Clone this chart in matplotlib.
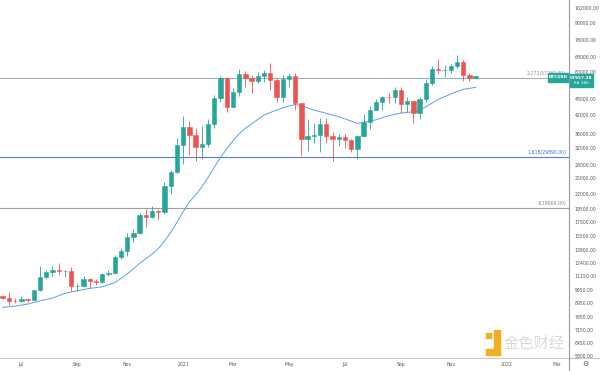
import numpy as np
import matplotlib
matplotlib.use("Agg")
import matplotlib.pyplot as plt
from matplotlib.patches import Rectangle
from matplotlib.lines import Line2D
from matplotlib.ticker import NullLocator

# недільні свічки BTCUSD, з 15.06.2020 по 29.11.2021
opens = [9470, 9300, 9130, 9070, 9240, 9170, 9930, 11050, 11580, 11770,
         11650, 11680, 10270, 10330, 10930, 10770, 10670, 11380, 11500, 13030,
         13780, 15480, 15970, 18450, 18180, 19160, 18970, 23500, 26270, 33000,
         38150, 35800, 32260, 33100, 39250, 48600, 57400, 45200, 51000, 59000,
         57400, 55800, 58000, 59800, 56200, 49100, 56600, 58200, 46400, 34700,
         35600, 35800, 39100, 35500, 34700, 35300, 34250, 31800, 35400, 39850,
         43800, 46900, 49000, 48900, 51800, 46000, 47200, 42800, 48200, 54900,
         61500, 61000, 61300, 63300, 65500, 58600, 57300]
highs = [9590, 9790, 9300, 9480, 9360, 10000, 12100, 11800, 12100, 12480,
         11800, 12080, 10600, 11180, 10990, 10950, 11500, 11720, 13350, 14100,
         15970, 16490, 18820, 19480, 19920, 19420, 24200, 26900, 34800, 41950,
         40100, 37850, 38500, 40950, 49700, 58350, 57500, 52640, 61800, 60600,
         58600, 60200, 61200, 64900, 57000, 58400, 59600, 59600, 46700, 40900,
         39500, 41300, 41300, 36600, 36000, 35950, 34700, 35400, 42600, 45300,
         48100, 49200, 50500, 52900, 52900, 48800, 47300, 49000, 56600, 62900,
         67000, 63700, 64300, 69000, 66300, 59400, 58100]
lows = [9220, 8830, 8950, 9050, 9060, 9140, 9880, 10950, 11150, 11300,
        11130, 9900, 9900, 10200, 10150, 10400, 10530, 11220, 11400, 12900,
        13210, 14850, 15800, 16800, 18100, 17800, 18700, 21900, 26100, 28100,
        30400, 28850, 29250, 32300, 37900, 47000, 43300, 44950, 49200, 53200,
        50400, 54900, 55500, 52000, 47000, 47100, 53000, 43800, 30000, 31300,
        33400, 31000, 33400, 28800, 32700, 32000, 31000, 29300, 35200, 37600,
        43800, 43900, 46400, 46600, 42800, 43400, 39600, 40800, 46900, 53800,
        59600, 57800, 59500, 62300, 55600, 55600, 56800]
closes = [9300, 9130, 9070, 9240, 9170, 9930, 11050, 11580, 11770, 11650,
          11680, 10270, 10330, 10930, 10770, 10670, 11380, 11500, 13030, 13780,
          15480, 15970, 18450, 18180, 19160, 18970, 23500, 26270, 33000, 38150,
          35800, 32260, 33100, 39250, 48600, 57400, 45200, 51000, 59000, 57400,
          55800, 58000, 59800, 56200, 49100, 56600, 58200, 46400, 34700, 35600,
          35800, 39100, 35500, 34700, 35300, 34250, 31800, 35400, 39850, 43800,
          46900, 49000, 48900, 51800, 46000, 47200, 42800, 48200, 54900, 61500,
          61000, 61300, 63300, 65500, 58600, 57300, 57957.28]

# ковзна середня
ma_idx = [0, 2, 4, 6, 8, 10, 12, 14, 16, 18, 20, 22, 24, 25, 26, 27, 28, 29,
          30, 31, 32, 33, 34, 35, 36, 37, 38, 39, 40, 42, 44, 46, 47, 48, 50,
          52, 54, 56, 57, 58, 60, 62, 64, 66, 67, 68, 70, 72, 74, 75, 76]
ma_val = [8635, 8730, 8875, 9120, 9325, 9695, 9905, 10100, 10235, 10580,
          11365, 12410, 13400, 14000, 14900, 16000, 17400, 19000,
          20600, 21800, 23300, 25200, 27400, 29700, 31900, 34100, 36100, 37800,
          39200, 42150, 43930, 45400, 46030, 45510, 43930,
          42750, 41570, 40120, 39365, 39690, 40550, 41910, 42850, 43315, 43820,
          45135, 47975, 50120, 52100, 52530, 52960]

# рівні Фібоначчі
fib_levels = [57280, 29890, 19666]
fib_names = ["2.272(57280.00)", "1.618(29890.00)", "1(19666.00)"]

y_ticks = [102000, 90000, 78000, 68000, 60000, 48000, 42000, 36000, 32000,
           28000, 25000, 22000, 19500, 17500, 15500, 13900, 12400, 11150,
           9950, 8950, 7950, 7150, 6450, 5800]
x_tick_pos = [3, 12, 20, 29, 37, 46, 55, 64, 72, 81, 89]
x_tick_lab = ["Jul", "Sep", "Nov", "2021", "Mar", "May", "Jul", "Sep", "Nov",
              "2022", "Mar"]

UP = "#26a69a"
DOWN = "#ef5350"
W, H = 600, 371

fig = plt.figure(figsize=(6, 3.71), dpi=100)
ax = fig.add_axes([0, 13 / H, 569 / W, 358 / H])

ax.set_yscale("log")
ax.set_ylim(5690, 108800)
ax.set_xlim(-0.43, 91.0)

x = np.arange(len(opens))
o = np.array(opens, dtype=float)
c = np.array(closes, dtype=float)
col = np.where(c >= o, UP, DOWN)

ax.vlines(x, lows, highs, colors=col, lw=0.6, zorder=3)
ax.bar(x, np.abs(c - o), bottom=np.minimum(o, c), width=0.7, color=col,
       edgecolor=col, linewidth=0.4, zorder=4)

ax.plot(ma_idx, ma_val, color="#5b9cf6", lw=0.7, zorder=2)

fib_cols = ["#a3aebb", "#5a7fcf", "#a0a0a0"]
txt_cols = ["#8a8f99", "#3f6fd1", "#8a8a8a"]
for lvl, name, lc, tc in zip(fib_levels, fib_names, fib_cols, txt_cols):
    ax.axhline(lvl, color=lc, lw=0.8, zorder=1)
    ax.text(0.995, lvl * 1.012, name, transform=ax.get_yaxis_transform(),
            ha="right", va="bottom", fontsize=3.3, color=tc, zorder=5)

# осі
for s in ["top", "left", "right", "bottom"]:
    ax.spines[s].set_visible(False)
ax.yaxis.tick_right()
ax.set_yticks(y_ticks)
ax.set_yticklabels([f"{v:.2f}" for v in y_ticks])
ax.yaxis.set_minor_locator(NullLocator())
ax.set_xticks(x_tick_pos)
ax.set_xticklabels(x_tick_lab)
ax.tick_params(axis="y", length=0, pad=4, labelsize=3.3, labelcolor="#555555")
ax.tick_params(axis="x", length=0, pad=3, labelsize=3.3, labelcolor="#555555")

fig.add_artist(Line2D([0, 1], [1 - 358 / H, 1 - 358 / H], color="#c8c8c8", lw=0.8))
fig.add_artist(Line2D([569 / W, 569 / W], [0, 1], color="#9a9a9a", lw=0.8))


def box(x0, y0, x1, y1, color):
    fig.add_artist(Rectangle((x0 / W, 1 - y1 / H), (x1 - x0) / W, (y1 - y0) / H,
                             transform=fig.transFigure, color=color, zorder=6))


# мітка ціни
box(548, 73.5, 568, 81.5, UP)
fig.text(558 / W, 1 - 77.5 / H, "BTCUSD", fontsize=3.1, color="white",
         ha="center", va="center", weight="bold", zorder=7)
box(569.5, 74, 593, 87, UP)
fig.text(581 / W, 1 - 78 / H, f"{closes[-1]:.2f}", fontsize=3.1, color="white",
         ha="center", va="center", weight="bold", zorder=7)
fig.text(581 / W, 1 - 83.5 / H, "6d 16h", fontsize=3.1, color="white",
         ha="center", va="center", zorder=7)

# водяний знак
box(486, 333, 491, 338, "#f2b01e")
box(494, 330, 500, 355, "#f2b01e")
box(486, 349, 500, 355, "#f2b01e")
fig.text(504 / W, 1 - 343 / H, "金色财经", fontsize=11, color="#d6d6d6",
         family=["Noto Sans CJK SC", "DejaVu Sans"], ha="left", va="center",
         zorder=7, alpha=0.9)
fig.text(585 / W, 1 - 364 / H, "⚙", fontsize=5, color="#555555",
         ha="center", va="center")

fig.savefig("out.png", dpi=100, facecolor="white")
